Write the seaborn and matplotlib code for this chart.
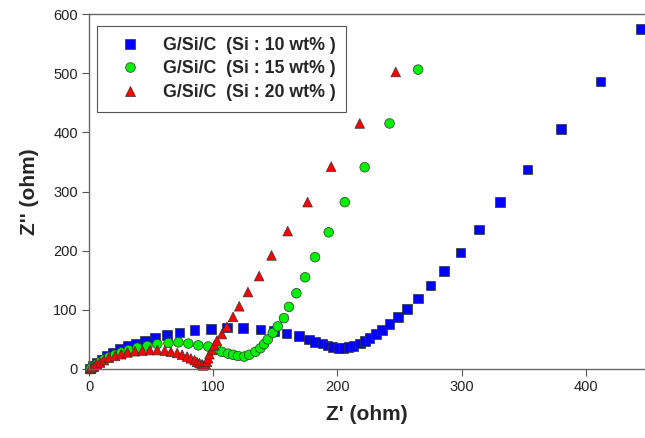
import numpy as np
import pandas as pd
import matplotlib
matplotlib.use("Agg")
import matplotlib.pyplot as plt
import seaborn as sns

# ---------------------------------------
# Data
# ---------------------------------------
labels = ["G/Si/C  (Si : 10 wt% )", "G/Si/C  (Si : 15 wt% )", "G/Si/C  (Si : 20 wt% )"]

x10 = [1, 3, 6, 10, 14, 19, 25, 31, 38, 45, 53, 63, 73, 85, 98, 111, 124, 138, 149, 159,
       169, 177, 182, 188, 192, 196, 201, 205, 209, 213, 218, 222, 226, 231, 236, 242, 249,
       256, 265, 275, 286, 299, 314, 331, 353, 380, 412, 444]
y10 = [1, 5, 10, 16, 22, 28, 34, 39, 43, 48, 52, 57, 62, 66, 68, 70, 69, 67, 64, 60,
       56, 50, 46, 43, 40, 37, 36, 36, 37, 39, 43, 47, 52, 59, 66, 76, 88,
       101, 119, 141, 166, 197, 236, 282, 337, 406, 486, 575]

x15 = [1, 2, 4, 6, 9, 12, 16, 21, 26, 32, 39, 47, 55, 64, 72, 80, 88, 96, 103, 107,
       112, 116, 120, 125, 129, 134, 138, 141, 144, 148, 152, 157, 161, 167, 174, 182, 193,
       206, 222, 242, 265]
y15 = [0, 2, 5, 8, 12, 16, 20, 24, 28, 32, 36, 39, 42, 44, 45, 43, 40, 38, 33, 29,
       26, 24, 22, 21, 24, 29, 35, 42, 50, 61, 72, 86, 105, 128, 155, 189, 231,
       282, 341, 415, 506]

x20 = [1, 2, 4, 6, 9, 12, 16, 21, 26, 31, 37, 43, 49, 55, 61, 66, 71, 75, 79, 82,
       85, 87, 89, 91, 92, 94, 95, 96, 97, 99, 101, 103, 107, 111, 116, 121, 128, 137,
       147, 160, 176, 195, 218, 247]
y20 = [0, 2, 5, 8, 11, 15, 19, 22, 25, 28, 30, 31, 32, 32, 31, 29, 27, 24, 21, 18,
       15, 12, 10, 8, 6, 8, 12, 18, 25, 32, 40, 48, 59, 71, 88, 106, 130, 157,
       192, 233, 282, 342, 415, 502]

df = pd.concat([
    pd.DataFrame({"x": x10, "y": y10, "sample": labels[0]}),
    pd.DataFrame({"x": x15, "y": y15, "sample": labels[1]}),
    pd.DataFrame({"x": x20, "y": y20, "sample": labels[2]}),
], ignore_index=True)

# ---------------------------------------
# Plot
# ---------------------------------------
sns.set_theme(style="white")
plt.rcParams["font.family"] = ["Liberation Sans", "DejaVu Sans"]
plt.rcParams["xtick.direction"] = "out"
plt.rcParams["ytick.direction"] = "out"

fig = plt.figure(figsize=(6.45, 4.38), dpi=100)
ax = fig.add_axes([89 / 645, 69 / 438, 556 / 645, 355 / 438])

palette = {labels[0]: "#0000ff", labels[1]: "#00f000", labels[2]: "#ff0000"}
markers = {labels[0]: "s", labels[1]: "o", labels[2]: "^"}

sns.scatterplot(data=df, x="x", y="y", hue="sample", style="sample",
                palette=palette, markers=markers, s=48,
                edgecolor="#333333", linewidth=0.5, clip_on=False, ax=ax)

ax.set_xlim(0, 447.7)
ax.set_ylim(0, 600)
ax.set_xticks([0, 100, 200, 300, 400])
ax.set_yticks([0, 100, 200, 300, 400, 500, 600])
ax.tick_params(axis="both", which="major", length=5, width=0.8, color="#555555",
               labelsize=10.5, labelcolor="#222222", bottom=True, left=True, pad=3)

for side in ["left", "bottom", "top"]:
    ax.spines[side].set_color("#666666")
    ax.spines[side].set_linewidth(1.0)
ax.spines["right"].set_visible(False)

ax.set_xlabel("Z' (ohm)", fontsize=15, fontweight="bold", labelpad=8)
ax.set_ylabel("Z'' (ohm)", fontsize=15, fontweight="bold", labelpad=10)

old = ax.get_legend()
handles = old.legend_handles
texts = [t.get_text() for t in old.get_texts()]
old.remove()
for h in handles:
    h.set_markeredgecolor("#333333")
    h.set_markeredgewidth(0.5)
    h.set_markersize(7)
leg = ax.legend(handles, texts, loc="upper left", bbox_to_anchor=(0.014, 0.966),
                borderaxespad=0, frameon=True, fancybox=False, framealpha=1,
                edgecolor="#555555", prop={"weight": "bold", "size": 12.8},
                handlelength=2.5, handletextpad=0.6, labelspacing=0.38, borderpad=0.6)
leg.get_frame().set_linewidth(0.8)

plt.savefig("out.png", dpi=100)
